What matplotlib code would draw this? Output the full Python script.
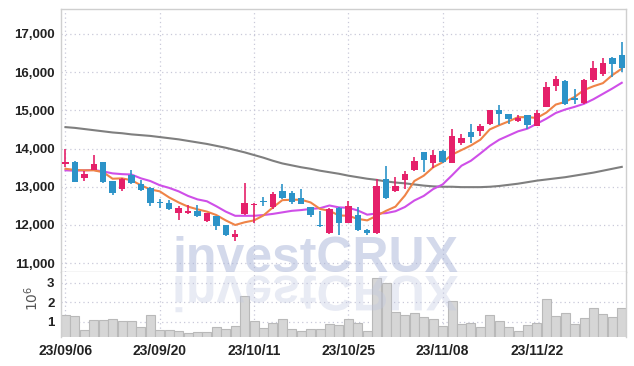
import numpy as np
import matplotlib
matplotlib.use('Agg')
import matplotlib.pyplot as plt
from matplotlib.textpath import TextPath
from matplotlib.patches import PathPatch
from matplotlib.font_manager import FontProperties
from matplotlib.transforms import Affine2D

# ---- data ----
opens = [13600, 13660, 13220, 13450, 13640, 13140, 12940, 13300, 13080, 12980,
         12600, 12570, 12320, 12310, 12370, 12110, 12230, 11990, 11690, 12280,
         12530, 12640, 12470, 12880, 12830, 12710, 12470, 12010, 11790, 12450,
         12050, 12250, 11860, 11780, 13190, 12880, 13170, 13430, 13900, 13610,
         13930, 13620, 14150, 14430, 14460, 14630, 15000, 14900, 14720, 14870,
         14590, 15090, 15640, 15760, 15320, 15180, 15790, 15950, 16360, 16450]
highs = [13990, 13670, 13400, 13820, 13650, 13150, 13220, 13430, 13170, 12990,
         12680, 12650, 12490, 12520, 12510, 12320, 12240, 12000, 11880, 13110,
         12570, 12730, 12850, 13070, 12900, 12930, 12480, 12370, 12450, 12460,
         12620, 12470, 11900, 13200, 13530, 13260, 13400, 13770, 13910, 13970,
         13950, 14500, 14370, 14650, 14650, 15020, 15130, 14910, 14890, 14880,
         15000, 15730, 15900, 15800, 15550, 15830, 16290, 16360, 16400, 16790]
lows = [13520, 13120, 13160, 13440, 13090, 12790, 12900, 13060, 12900, 12500,
        12440, 12390, 12140, 12280, 12200, 12080, 11860, 11710, 11580, 12270,
        12050, 12490, 12420, 12680, 12560, 12540, 12200, 11960, 11770, 11730,
        12040, 11840, 11740, 11770, 12680, 12870, 12950, 13420, 13390, 13500,
        13630, 13610, 14090, 14150, 14320, 14620, 14610, 14650, 14700, 14500,
        14580, 15080, 15500, 15150, 15160, 15170, 15750, 15890, 15860, 15990]
closes = [13660, 13130, 13340, 13590, 13120, 12840, 13210, 13100, 12920, 12580,
          12580, 12410, 12440, 12370, 12230, 12310, 11970, 11730, 11760, 12580,
          12560, 12600, 12820, 12710, 12610, 12560, 12250, 11980, 12430, 12040,
          12490, 11880, 11780, 13010, 12710, 13020, 13340, 13670, 13700, 13840,
          13650, 14320, 14280, 14300, 14590, 15000, 14900, 14780, 14810, 14610,
          14920, 15600, 15810, 15160, 15270, 15790, 16100, 16250, 16210, 16100]

ma_short = [13470, 13440, 13430, 13430, 13380, 13210, 13220, 13170, 13040, 12930,
            12880, 12720, 12590, 12480, 12410, 12350, 12260, 12120, 12000, 12070,
            12120, 12250, 12460, 12650, 12660, 12660, 12590, 12420, 12370, 12250,
            12240, 12160, 12120, 12240, 12370, 12480, 12770, 13150, 13290, 13510,
            13640, 13840, 13960, 14080, 14230, 14500, 14610, 14710, 14820, 14820,
            14800, 14940, 15150, 15220, 15350, 15530, 15630, 15710, 15920, 16090]
ma_mid = [13430, 13420, 13430, 13440, 13400, 13350, 13330, 13320, 13220, 13150,
          13040, 12970, 12880, 12760, 12670, 12620, 12490, 12350, 12240, 12240,
          12240, 12260, 12290, 12330, 12370, 12390, 12420, 12440, 12510, 12460,
          12450, 12380, 12270, 12300, 12310, 12360, 12470, 12640, 12760, 12940,
          13060, 13300, 13550, 13680, 13870, 14070, 14230, 14340, 14450, 14520,
          14650, 14780, 14930, 15020, 15090, 15170, 15290, 15430, 15570, 15720]
ma_long = [14560, 14540, 14510, 14480, 14450, 14420, 14400, 14370, 14350, 14330,
           14300, 14270, 14240, 14200, 14160, 14120, 14070, 14020, 13960, 13900,
           13830, 13760, 13680, 13610, 13560, 13510, 13470, 13420, 13380, 13340,
           13290, 13250, 13210, 13180, 13140, 13110, 13090, 13060, 13030, 13010,
           13000, 13000, 12990, 12990, 12990, 13000, 13020, 13050, 13080, 13120,
           13160, 13190, 13220, 13250, 13290, 13330, 13370, 13420, 13470, 13520]

volumes = [1.34, 1.29, 0.57, 1.09, 1.09, 1.14, 1.03, 1.03, 0.71, 1.34,
           0.57, 0.55, 0.50, 0.40, 0.47, 0.47, 0.72, 0.62, 0.78, 2.33,
           1.03, 0.66, 0.93, 1.14, 0.62, 0.52, 0.62, 0.62, 0.88, 0.83,
           1.12, 0.91, 0.52, 3.24, 2.98, 1.52, 1.34, 1.46, 1.26, 1.12,
           0.78, 2.07, 0.88, 0.91, 0.71, 1.33, 1.05, 0.71, 0.50, 0.81,
           0.91, 2.15, 1.29, 1.43, 0.88, 1.17, 1.69, 1.40, 1.22, 1.69]  # x 10^6

tick_pos = [0, 10, 20, 30, 40, 50]
tick_labels = ['23/09/06', '23/09/20', '23/10/11', '23/10/25', '23/11/08', '23/11/22']
price_ticks = [11000, 12000, 13000, 14000, 15000, 16000, 17000]

UP = '#e5206a'
DOWN = '#2c93c8'
GRID = '#c9c9d9'
FONT = 'Liberation Sans'

W, H = 634, 366
fig = plt.figure(figsize=(W / 100, H / 100), dpi=100)
ax = fig.add_axes([61.5 / W, 1 - 272 / H, (626 - 61.5) / W, (272 - 9) / H])
axv = fig.add_axes([61.5 / W, 1 - 337 / H, (626 - 61.5) / W, (337 - 272) / H], sharex=ax)

x = np.arange(len(closes))
o = np.array(opens); c = np.array(closes)
colors = [UP if cc >= oo else DOWN for oo, cc in zip(o, c)]
body_h = np.maximum(np.abs(c - o), 30)
body_b = np.minimum(o, c)

ax.vlines(x, lows, highs, colors=colors, linewidth=1.2, zorder=3)
ax.bar(x, body_h, bottom=body_b, width=0.68, color=colors, zorder=4)

ax.plot(x, ma_long, color='#7f7f7f', lw=1.5, zorder=2)
ax.plot(x, ma_mid, color='#cf4fe8', lw=1.5, zorder=2)
ax.plot(x, ma_short, color='#ef8447', lw=1.5, zorder=2)

ax.set_xlim(-0.42, 59.45)
ax.set_ylim(10770, 17650)
ax.set_yticks(price_ticks)
ax.set_yticklabels([f'{v:,}' for v in price_ticks])

axv.bar(x, volumes, width=0.96, color='#d6d6d6', edgecolor='#b9b9b9', linewidth=0.8, zorder=2)
axv.set_ylim(0.2, 3.57)
axv.set_yticks([1, 2, 3])
axv.set_yticklabels(['1', '2', '3'])
axv.set_xticks(tick_pos)
axv.set_xticklabels(tick_labels)

for a in (ax, axv):
    a.grid(True, linestyle=(0, (1, 2.5)), color=GRID, linewidth=0.9, zorder=0)
    a.set_axisbelow(True)
    a.tick_params(length=0, colors='#222222', pad=5)
    for lab in a.get_yticklabels():
        lab.set_family(FONT)
        lab.set_fontweight('bold')
        lab.set_fontsize(9.5)
    for lab in a.get_xticklabels():
        lab.set_family(FONT)
        lab.set_fontweight('bold')
        lab.set_fontsize(10)
    for s in a.spines.values():
        s.set_color('#cfcfcf')
        s.set_linewidth(1)
ax.tick_params(labelbottom=False)
axv.spines['bottom'].set_visible(False)
axv.spines['top'].set_visible(False)
axv.tick_params(axis='x', pad=5)

fig.text(32 / W, 1 - 298 / H, r'$10^6$', rotation=90, ha='center', va='center',
         fontsize=10, color='#555555')

# watermark + reflection
wm_x, wm_base = 172, 366 - 272
fig.text(wm_x / W, wm_base / H, 'investCRUX', fontsize=36, fontweight='bold',
         family='Liberation Sans', color='#a9b4d8', alpha=0.5, va='baseline', zorder=10)
tp = TextPath((0, 0), 'investCRUX', size=50,
              prop=FontProperties(family='Liberation Sans', weight='bold'))
tr = Affine2D().scale(1, -1).translate(wm_x, wm_base - 4) + Affine2D().scale(1 / W, 1 / H) + fig.transFigure
fig.patches.append(PathPatch(tp, transform=tr, facecolor='#bfc6e0', edgecolor='none',
                             alpha=0.35, zorder=10))

fig.savefig('out.png', dpi=100, facecolor='white')
